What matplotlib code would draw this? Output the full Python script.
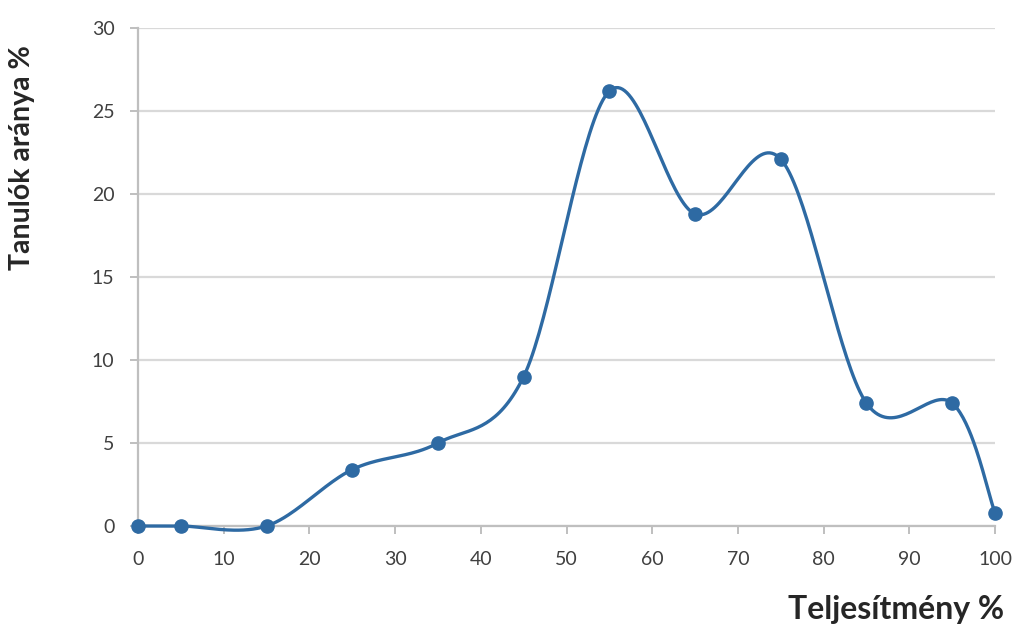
import matplotlib.pyplot as plt
import numpy as np

# performance (%) vs share of students (%)
teljesitmeny = [0, 5, 15, 25, 35, 45, 55, 65, 75, 85, 95, 100]
tanulok_aranya = [0, 0, 0, 3.4, 5.0, 9.0, 26.2, 18.8, 22.1, 7.4, 7.4, 0.8]

x_ticks = [0, 10, 20, 30, 40, 50, 60, 70, 80, 90, 100]
y_ticks = [0, 5, 10, 15, 20, 25, 30]

LINE_COLOR = '#2e6aa3'


def smooth_curve(xs, ys, steps=40):
    # Excel-style smoothed line: cubic Bezier segments with Catmull-Rom tangents
    xs = np.asarray(xs, float)
    ys = np.asarray(ys, float)
    n = len(xs)
    out_x, out_y = [], []
    t = np.linspace(0, 1, steps)
    for i in range(n - 1):
        p0 = np.array([xs[max(i - 1, 0)], ys[max(i - 1, 0)]])
        p1 = np.array([xs[i], ys[i]])
        p2 = np.array([xs[i + 1], ys[i + 1]])
        p3 = np.array([xs[min(i + 2, n - 1)], ys[min(i + 2, n - 1)]])
        c1 = p1 + (p2 - p0) / 6
        c2 = p2 - (p3 - p1) / 6
        pts = (np.outer((1 - t) ** 3, p1) + np.outer(3 * (1 - t) ** 2 * t, c1)
               + np.outer(3 * (1 - t) * t ** 2, c2) + np.outer(t ** 3, p2))
        out_x.extend(pts[:, 0])
        out_y.extend(pts[:, 1])
    return out_x, out_y


plt.rcParams['font.family'] = ['Lato', 'DejaVu Sans']

fig = plt.figure(figsize=(10.23, 6.28), dpi=100)
ax = fig.add_axes([138 / 1023, 1 - 526 / 628, (995 - 138) / 1023, (526 - 28) / 628])

sx, sy = smooth_curve(teljesitmeny, tanulok_aranya)
ax.plot(sx, sy, color=LINE_COLOR, linewidth=2.4, zorder=3, clip_on=False)
ax.plot(teljesitmeny, tanulok_aranya, 'o', color=LINE_COLOR, markersize=9.5,
        zorder=4, clip_on=False)

ax.set_xlim(0, 100)
ax.set_ylim(0, 30)
ax.set_xticks(x_ticks)
ax.set_yticks(y_ticks)

ax.grid(axis='y', color='#d9d9d9', linewidth=1.6)
ax.set_axisbelow(True)
for side in ['top', 'right']:
    ax.spines[side].set_visible(False)
for side in ['left', 'bottom']:
    ax.spines[side].set_color('#bfbfbf')
    ax.spines[side].set_linewidth(1.6)

ax.tick_params(axis='both', colors='#bfbfbf', length=6, width=1.4,
               labelcolor='#404040', labelsize=14)
ax.tick_params(axis='x', pad=12)
ax.tick_params(axis='y', pad=11)

fig.text(22 / 1023, 1 - 158 / 628, 'Tanulók aránya %', rotation=90,
         ha='center', va='center', fontsize=20.5, fontweight='bold', color='#262626')
fig.text(1004 / 1023, 1 - 610 / 628, 'Teljesítmény %', ha='right', va='center',
         fontsize=23, fontweight='bold', color='#262626')

fig.savefig('out.png', dpi=100)
